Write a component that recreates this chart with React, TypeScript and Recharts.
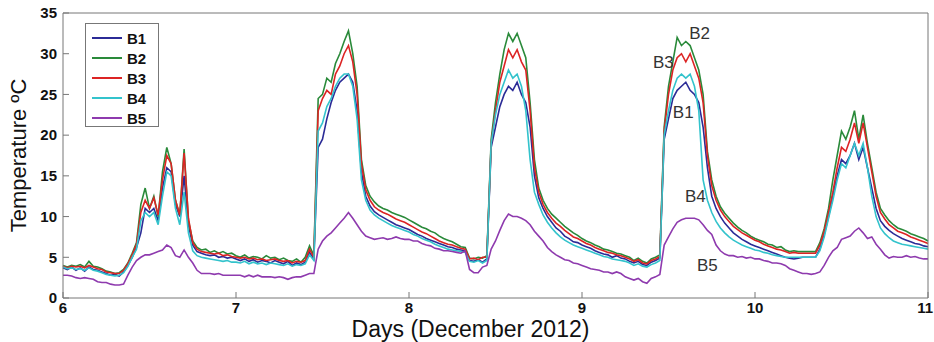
import { LineChart, Line, XAxis, YAxis, ReferenceDot } from 'recharts';

// sample times: every 0.025 day from 6 to 11
const days: number[] = Array.from({ length: 201 }, (_, i) => +(6 + i * 0.025).toFixed(3));

const b1 = [
  3.7, 3.5, 3.8, 3.4, 3.7, 3.3, 3.8, 3.5, 3.4, 3.2,
  3.0, 2.8, 2.9, 2.7, 3.2, 4.0, 5.0, 6.2, 8.0, 11.0,
  10.5, 11.0, 9.5, 13.5, 16.0, 15.5, 11.5, 10.0, 15.0, 9.0,
  6.5, 5.7, 5.5, 5.3, 5.2, 5.3, 5.0, 5.1, 4.9, 5.0,
  4.8, 4.6, 4.8, 4.5, 4.7, 4.4, 4.6, 4.5, 4.3, 4.6,
  4.4, 4.2, 4.5, 4.0, 4.3, 4.1, 4.4, 5.6, 4.8, 18.5,
  19.5, 22.0, 24.0, 25.5, 26.5, 27.0, 27.5, 26.5, 23.0, 15.5,
  12.5, 11.3, 10.6, 10.2, 9.9, 9.6, 9.3, 9.0, 8.8, 8.6,
  8.4, 8.1, 7.8, 7.6, 7.3, 7.1, 6.9, 6.7, 6.5, 6.3,
  6.2, 6.0, 5.9, 5.8, 4.6, 4.5, 4.7, 4.4, 4.8, 18.5,
  21.0, 23.5, 25.0, 26.0, 25.5, 26.5, 25.0, 24.0, 21.0, 15.0,
  12.3, 11.0, 10.0, 9.3, 8.6, 8.2, 7.6, 7.3, 6.9, 6.8,
  6.5, 6.3, 6.1, 5.8, 5.6, 5.4, 5.3, 5.0, 5.2, 4.9,
  4.8, 4.5, 4.3, 4.5, 4.1, 4.0, 4.4, 4.6, 4.9, 19.5,
  22.0, 24.5, 25.5, 26.0, 26.5, 25.5, 25.0, 24.0, 21.0, 16.0,
  12.5, 11.0, 10.0, 9.2, 8.6, 8.0, 7.6, 7.2, 6.9, 6.6,
  6.4, 6.2, 6.0, 5.8, 5.6, 5.4, 5.2, 5.0, 4.9, 4.8,
  4.9, 5.0, 5.0, 5.0, 5.0, 6.0, 7.8, 10.0, 12.5, 15.0,
  17.0, 16.5, 17.5, 19.0, 17.0, 18.5, 16.0, 13.5, 11.0, 9.5,
  8.8, 8.3, 7.9, 7.6, 7.3, 7.1, 6.9, 6.7, 6.6, 6.4,
  6.3,
];

const b2 = [
  4.0, 3.8, 4.0, 3.9, 4.1, 3.8, 4.5, 3.9, 3.8, 3.6,
  3.3, 3.2, 3.0, 3.1, 3.5, 4.3, 5.5, 6.8, 11.5, 13.5,
  11.0, 12.5, 10.0, 15.5, 18.5, 16.5, 12.0, 10.2, 18.3, 9.5,
  7.0, 6.2, 5.9, 6.0, 5.6, 5.8, 5.5, 5.7, 5.4, 5.5,
  5.2, 5.0, 5.3, 4.9, 5.1, 5.0, 4.8, 5.2, 4.9, 5.0,
  4.7, 4.9, 4.6, 4.5, 4.8, 4.4, 5.0, 6.4, 5.2, 24.5,
  25.0, 27.0, 26.5, 28.8, 30.0, 31.5, 32.8, 30.0, 26.0, 17.0,
  13.8, 12.5, 11.8, 11.3, 11.0, 10.8, 10.5, 10.3, 10.1, 9.9,
  9.6, 9.3, 9.0, 8.7, 8.5, 8.2, 8.0, 7.6, 7.3, 7.1,
  6.9, 6.6, 6.3, 6.2, 4.9, 4.8, 5.0, 4.9, 5.2, 19.5,
  24.0, 27.5, 30.5, 32.5, 31.5, 32.5, 31.0, 29.5, 24.0, 17.0,
  13.5, 12.0, 11.0, 10.3, 9.8, 9.3, 8.8, 8.4, 8.0, 7.7,
  7.3, 7.0, 6.8, 6.5, 6.3, 6.0, 5.9, 5.7, 5.5, 5.4,
  5.2, 5.0, 4.6, 4.9, 4.5, 4.3, 4.8, 5.0, 5.3, 21.0,
  26.0, 29.0, 32.0, 31.0, 31.5, 31.0, 29.5, 28.0, 25.0, 18.0,
  14.5, 12.5, 11.2, 10.4, 9.8, 9.2, 8.7, 8.3, 8.0, 7.6,
  7.3, 7.1, 6.9, 6.6, 6.5, 6.2, 6.3, 5.9, 5.7, 5.8,
  5.7, 5.7, 5.7, 5.7, 5.7, 6.8, 8.5, 11.0, 14.5, 17.5,
  20.5, 19.5, 21.0, 23.0, 19.5, 22.5, 19.0, 16.0, 13.0, 11.0,
  10.2, 9.5, 9.0, 8.6, 8.4, 8.2, 7.9, 7.7, 7.5, 7.3,
  7.0,
];

const b3 = [
  3.9, 3.7, 3.9, 3.8, 3.9, 3.7, 4.0, 3.8, 3.6, 3.5,
  3.2, 3.1, 3.0, 3.0, 3.4, 4.2, 5.3, 6.6, 10.5, 12.0,
  11.0, 12.3, 10.2, 14.5, 17.5, 16.5, 12.0, 10.2, 17.8, 9.8,
  6.8, 6.0, 5.7, 5.6, 5.5, 5.4, 5.5, 5.2, 5.3, 5.1,
  5.0, 4.9, 5.0, 4.8, 4.9, 4.7, 4.8, 4.6, 4.7, 4.8,
  4.6, 4.5, 4.6, 4.3, 4.5, 4.4, 4.6, 6.0, 5.0, 23.0,
  24.5, 25.5, 25.0, 27.5, 28.5, 30.0, 31.0, 29.0, 25.0, 16.5,
  13.3, 12.0, 11.2, 10.8, 10.5, 10.3, 10.0, 9.7, 9.5, 9.3,
  9.0, 8.7, 8.4, 8.1, 7.9, 7.6, 7.3, 7.0, 6.8, 6.6,
  6.5, 6.3, 6.1, 6.0, 4.8, 4.9, 4.7, 5.0, 5.0, 19.0,
  23.0, 26.5, 28.5, 30.5, 29.5, 30.5, 29.0, 28.0, 23.0, 16.0,
  13.0, 11.5, 10.5, 9.8, 9.2, 8.8, 8.3, 7.9, 7.5, 7.3,
  7.0, 6.7, 6.5, 6.2, 6.0, 5.8, 5.6, 5.5, 5.3, 5.2,
  5.0, 4.8, 4.5, 4.7, 4.3, 4.2, 4.6, 4.8, 5.1, 20.5,
  25.0, 28.0, 29.5, 30.0, 29.0, 30.0, 28.5, 27.0, 24.0, 17.5,
  13.8, 12.0, 10.8, 10.0, 9.4, 8.8, 8.4, 8.0, 7.7, 7.4,
  7.1, 6.9, 6.6, 6.4, 6.2, 6.0, 5.9, 5.7, 5.5, 5.6,
  5.5, 5.5, 5.5, 5.5, 5.5, 6.5, 8.2, 10.5, 13.0, 16.0,
  18.5, 18.0, 19.5, 21.5, 19.0, 21.5, 18.5, 15.5, 12.5, 10.5,
  9.7, 9.0, 8.6, 8.2, 8.0, 7.8, 7.5, 7.3, 7.1, 6.9,
  6.7,
];

const b4 = [
  3.8, 3.6, 3.7, 3.5, 3.6, 3.4, 3.7, 3.4, 3.3, 3.1,
  2.9, 2.8, 2.7, 2.8, 3.1, 3.9, 5.0, 6.0, 9.5, 10.5,
  10.0, 10.5, 9.0, 12.5, 15.5, 15.0, 11.0, 9.0, 13.0, 8.0,
  5.8, 5.2, 5.0, 4.9, 4.8, 4.7, 4.6, 4.5, 4.6, 4.4,
  4.4, 4.3, 4.5, 4.2, 4.4, 4.2, 4.3, 4.1, 4.3, 4.2,
  4.1, 4.0, 4.2, 3.9, 4.1, 4.0, 4.2, 5.3, 4.6, 20.5,
  21.5, 23.5, 24.5, 26.0, 27.0, 27.5, 27.5, 26.0, 22.0, 14.5,
  12.0, 10.8, 10.2, 9.8, 9.5, 9.2, 8.9, 8.7, 8.5, 8.3,
  8.1, 7.8, 7.6, 7.3, 7.1, 6.9, 6.6, 6.4, 6.2, 6.0,
  5.9, 5.8, 5.7, 5.6, 4.5, 4.4, 4.6, 4.3, 4.6, 19.0,
  22.5, 25.0, 26.5, 28.0, 27.0, 27.5, 26.0, 23.0, 17.0, 13.0,
  11.5, 10.2, 9.3, 8.6, 8.0, 7.5, 7.1, 6.8, 6.5, 6.3,
  6.1, 5.9, 5.7, 5.5, 5.3, 5.1, 5.0, 4.8, 4.7, 4.6,
  4.5, 4.3, 4.0, 4.2, 3.9, 3.8, 4.1, 4.3, 4.6, 20.0,
  23.0, 25.5, 27.0, 27.5, 27.0, 27.5, 26.0, 23.0, 14.5, 12.0,
  10.5, 9.4, 8.6, 8.0, 7.5, 7.1, 6.8, 6.5, 6.3, 6.1,
  5.9, 5.8, 5.6, 5.5, 5.3, 5.2, 5.1, 5.0, 5.0, 5.0,
  5.0, 5.0, 5.0, 5.0, 5.0, 5.8, 7.5, 9.8, 12.0, 14.5,
  16.5, 16.0, 17.5, 19.0, 17.5, 19.0, 16.0, 12.5, 10.0, 8.6,
  7.9, 7.4, 7.0, 6.8, 6.6, 6.5, 6.4, 6.3, 6.2, 6.1,
  6.0,
];

const b5 = [
  2.8, 2.8, 2.7, 2.5, 2.4, 2.5, 2.4, 2.3, 2.0, 1.9,
  1.9, 1.7, 1.6, 1.6, 1.7, 2.8, 3.8, 4.6, 5.0, 5.3,
  5.3, 5.5, 5.7, 5.9, 6.5, 6.2, 5.2, 5.0, 5.9, 5.0,
  4.3, 3.4, 3.0, 3.0, 3.0, 2.9, 3.0, 2.8, 2.8, 2.8,
  2.8, 2.8, 2.6, 2.8, 2.6, 2.8, 2.6, 2.6, 2.6, 2.5,
  2.6, 2.5, 2.3, 2.5, 2.6, 2.6, 2.8, 3.0, 3.0, 6.0,
  7.0, 7.6, 8.0, 8.6, 9.2, 9.8, 10.5, 9.8, 9.0, 8.2,
  7.6, 7.4, 7.2, 7.3, 7.4, 7.2, 7.3, 7.5, 7.3, 7.2,
  7.2, 7.0, 7.0, 6.7, 6.5, 6.4, 6.1, 6.0, 5.8, 5.8,
  5.7, 5.6, 5.5, 5.8, 3.5, 3.1, 3.1, 3.8, 4.0, 6.0,
  7.0, 8.3, 9.5, 10.3, 10.0, 10.0, 9.8, 9.5, 9.0, 8.2,
  7.6, 7.0, 6.2, 5.7, 5.3, 5.0, 4.7, 4.6, 4.3, 4.2,
  4.0, 3.8, 3.6, 3.5, 3.4, 3.2, 3.2, 3.0, 3.2, 3.0,
  2.6, 2.4, 2.2, 2.4, 2.0, 1.8, 2.4, 2.6, 2.9, 6.5,
  7.5, 8.5, 9.3, 9.6, 9.8, 9.8, 9.8, 9.6, 9.0, 8.3,
  7.8, 6.5, 5.8, 5.4, 5.2, 5.2, 5.0, 5.1, 4.9, 5.0,
  4.8, 4.8, 4.6, 4.5, 4.3, 4.3, 4.2, 4.0, 3.6, 3.4,
  3.2, 3.0, 3.0, 2.9, 3.0, 3.2, 4.0, 5.0, 5.8, 6.2,
  7.2, 7.4, 7.6, 8.2, 8.6, 8.0, 7.3, 7.5, 6.6, 6.0,
  5.3, 4.9, 5.1, 5.0, 5.0, 5.2, 5.0, 5.1, 4.9, 4.8,
  4.8,
];

const xTicks = [6, 7, 8, 9, 10, 11];
const yTicks = [0, 5, 10, 15, 20, 25, 30, 35];

const seriesNames = ['B1', 'B2', 'B3', 'B4', 'B5'];
const seriesColors = ['#2b2b96', '#2a8a3a', '#dc2424', '#33c3cc', '#8e3aae'];

// in-plot text labels (data coordinates)
const noteNames = ['B2', 'B3', 'B1', 'B4', 'B5'];
const noteX = [9.68, 9.47, 9.585, 9.655, 9.725];
const noteY = [32.6, 29.0, 22.9, 12.5, 4.1];

const data = days.map((d, i) => ({
  day: d,
  B1: b1[i],
  B2: b2[i],
  B3: b3[i],
  B4: b4[i],
  B5: b5[i],
}));

const font = '"Liberation Sans", Arial, sans-serif';
const frame = '#777';

// last tick sits on the right edge, so anchor it to the end to keep it on the page
function DayTick(props: any) {
  const { x, y, payload } = props;
  const last = payload.value === xTicks[xTicks.length - 1];
  return (
    <text
      x={last ? x + 5 : x}
      y={y}
      dy="0.71em"
      textAnchor={last ? 'end' : 'middle'}
      fontSize={15}
      fontWeight="bold"
      fill="#111"
      fontFamily={font}
    >
      {payload.value}
    </text>
  );
}

function LegendBox() {
  return (
    <div
      style={{
        position: 'absolute', left: 85, top: 23, width: 74, height: 104,
        border: `1px solid ${frame}`, background: '#fff', boxSizing: 'border-box',
        fontFamily: font, fontSize: 15, fontWeight: 'bold', color: '#111',
      }}
    >
      {seriesNames.map((n, i) => (
        <div key={n} style={{ position: 'absolute', left: 6, top: 5 + i * 20, height: 18, display: 'flex', alignItems: 'center' }}>
          <div style={{ width: 30, height: 2, background: seriesColors[i] }} />
          <span style={{ marginLeft: 5 }}>{n}</span>
        </div>
      ))}
    </div>
  );
}

export default function App() {
  return (
    <div style={{ position: 'absolute', left: 0, top: 0, width: 934, height: 342, background: '#fff' }}>
      <LineChart width={934} height={342} data={data} margin={{ top: 12, right: 0, bottom: 0, left: 0 }}>
        <XAxis
          dataKey="day"
          type="number"
          domain={[6, 11]}
          ticks={xTicks}
          interval={0}
          height={44}
          stroke={frame}
          tickSize={-6}
          tickMargin={10}
          tick={<DayTick />}
          label={{ value: 'Days (December 2012)', position: 'insideBottom', offset: 5, dx: -25, fontSize: 23, fill: '#111', fontFamily: font }}
        />
        <XAxis xAxisId="top" dataKey="day" type="number" orientation="top" domain={[6, 11]} ticks={xTicks} height={1} stroke={frame} tickSize={-6} tick={false} />
        <YAxis
          type="number"
          domain={[0, 35]}
          ticks={yTicks}
          interval={0}
          width={63}
          stroke={frame}
          tickSize={-6}
          tickMargin={12}
          tick={{ fontSize: 15, fill: '#111', fontFamily: font, fontWeight: 'bold' }}
          label={{ value: 'Temperature ºC', angle: -90, position: 'insideLeft', offset: 18, fontSize: 22, fill: '#111', fontFamily: font, style: { textAnchor: 'middle' } }}
        />
        <YAxis yAxisId="right" type="number" orientation="right" domain={[0, 35]} ticks={yTicks} width={6} stroke={frame} tickSize={-6} tick={false} />
        {seriesNames.map((n, i) => (
          <Line key={n} type="linear" dataKey={n} stroke={seriesColors[i]} strokeWidth={1.6} dot={false} isAnimationActive={false} />
        ))}
        {noteNames.map((n, i) => (
          <ReferenceDot
            key={`note-${i}`}
            x={noteX[i]}
            y={noteY[i]}
            r={0}
            stroke="none"
            fill="none"
            label={{ value: n, position: 'center', fontSize: 17, fill: '#333', fontFamily: font }}
          />
        ))}
      </LineChart>
      <LegendBox />
    </div>
  );
}
